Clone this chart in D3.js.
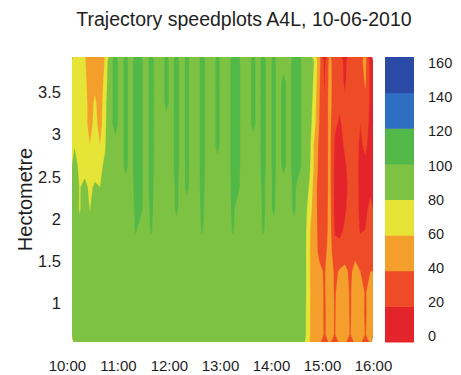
<!DOCTYPE html>
<html>
<head>
<meta charset="utf-8">
<script src="https://cdn.jsdelivr.net/npm/d3@7"></script>
<style>
  body { margin: 0; background: #fff; }
  svg text { font-family: 'Liberation Sans', Arial, Helvetica, sans-serif; fill: #1e1e1e; }
</style>
</head>
<body>
<div id="chart"></div>
<script>
const title = 'Trajectory speedplots A4L, 10-06-2010';
const yTitle = 'Hectometre';

const timeLabels = ['10:00', '11:00', '12:00', '13:00', '14:00', '15:00', '16:00'];
const timeDomain = ['10:06', '16:00'];
const hectoTicks = [1, 1.5, 2, 2.5, 3, 3.5];
const hectoDomain = [0.54, 3.92];

const speedBands = [0, 20, 40, 60, 80, 100, 120, 140, 160];
const bandColors = ['#e3242b', '#ee4b27', '#f49e2b', '#e6e436', '#7dc243', '#52b848', '#2e6ec3', '#2b4aa6'];

// column centres of the speed grid
const sampleTimes = [
  '10:09', '10:15', '10:21', '10:27', '10:33', '10:39', '10:45', '10:51', '10:57',
  '11:03', '11:09', '11:15', '11:21', '11:27', '11:33', '11:39', '11:45', '11:51', '11:57',
  '12:03', '12:09', '12:15', '12:21', '12:27', '12:33', '12:39', '12:45', '12:51', '12:57',
  '13:03', '13:09', '13:15', '13:21', '13:27', '13:33', '13:39', '13:45', '13:51', '13:57',
  '14:03', '14:09', '14:15', '14:21', '14:27', '14:33', '14:39', '14:45', '14:51', '14:57',
  '15:03', '15:09', '15:15', '15:21', '15:27', '15:33', '15:39', '15:45', '15:51', '15:57',
];

// row centres, top to bottom
const hectometres = [3.875, 3.625, 3.375, 3.125, 2.875, 2.625, 2.375, 2.125, 1.875, 1.625, 1.375, 1.125, 0.875, 0.625];

// speed (km/h), one row per hectometre, one value per sample time
const speedGrid = [
  [70,68,62,48,45,46,62, 97,103,96, 102,97,103,102,96,103,97,96,102,97, 103,96,102,97,96,103,97,96,102,97, 96,103,102,97,96,102,97,103,96,102, 97,96,97,103,102,97, 95,78,45,15,45,30,28,15,30,32,35,45,12],
  [72,70,66,48,52,46,68, 97,103,96, 102,97,103,102,96,103,97,96,102,97, 103,96,102,97,96,103,97,96,102,97, 96,103,102,97,96,102,97,103,96,102, 97,102,97,103,102,97, 95,74,42,18,47,28,25,18,28,30,30,42,14],
  [72,68,70,49,64,48,74, 97,103,96, 102,97,103,102,96,103,97,96,102,97, 103,96,102,97,96,103,97,96,102,97, 96,103,102,97,96,102,97,103,96,102, 97,102,97,103,102,97, 93,70,40,22,48,25,22,22,30,28,25,35,15],
  [70,66,70,50,68,50,76, 97,103,96, 102,97,103,102,96,103,97,96,97,97, 103,96,102,97,96,103,97,96,102,97, 96,103,102,97,96,102,97,103,96,102, 97,102,97,103,102,97, 90,66,38,25,46,22,18,25,28,26,20,28,15],
  [79,70,70,60,70,60,78, 97,97,96, 102,97,103,102,96,103,97,96,97,97, 103,96,102,97,96,103,97,96,102,97, 96,103,102,97,96,97,97,103,96,102, 97,102,97,103,102,97, 88,55,35,28,45,18,15,22,26,25,18,22,16],
  [86,76,74,72,74,75,84, 97,97,96, 102,97,103,102,96,103,97,96,97,97, 103,96,102,97,96,103,97,96,97,97, 96,103,102,97,96,97,97,103,96,102, 97,102,97,103,102,97, 85,55,32,28,45,15,12,18,25,28,15,18,18],
  [88,79,84,77,82,80,90, 96,96,95, 96,96,103,102,96,103,96,95,96,96, 102,95,102,96,95,103,96,95,96,96, 95,103,102,96,95,96,96,102,95,102, 96,96,96,102,96,93, 78,50,30,25,46,14,12,16,24,30,14,16,18],
  [90,78,88,79,90,86,92, 95,95,95, 96,95,102,102,95,102,96,95,95,96, 102,95,96,95,95,102,96,95,95,96, 95,102,96,95,95,96,95,102,95,102, 95,96,95,102,95,92, 70,50,30,25,48,15,14,18,25,28,16,18,22],
  [92,84,92,85,92,90,94, 95,94,95, 95,94,101,96,94,101,95,94,95,95, 96,95,95,94,95,101,95,94,95,95, 94,101,95,95,94,95,95,101,95,96, 94,95,95,96,95,91, 62,50,32,26,48,18,16,22,28,30,18,20,25],
  [92,90,93,92,93,92,93, 94,93,94, 94,93,96,94,93,96,94,93,94,93, 94,94,93,94,93,96,94,93,94,93, 93,96,94,94,93,94,93,96,94,94, 93,94,93,94,93,90, 62,48,35,32,50,25,25,30,32,34,28,28,30],
  [91,90,92,91,92,91,92, 92,91,92, 92,91,93,92,94,93,92,91,92,91, 92,92,91,92,91,93,92,91,92,91, 92,93,92,92,91,92,93,92,94,92, 91,92,92,93,92,90, 62,48,44,38,52,36,42,45,36,46,40,34,40],
  [90,91,91,90,91,90,91, 91,90,91, 91,90,92,91,92,91,91,90,91,90, 91,91,90,91,90,92,91,90,91,90, 91,92,91,91,90,91,92,91,92,91, 90,91,91,92,91,90, 62,50,50,37,54,37,50,52,37,50,52,37,52],
  [90,90,91,90,90,91,90, 91,90,90, 91,90,91,90,91,90,91,90,90,91, 90,91,90,90,91,90,91,90,90,91, 90,91,90,91,90,90,91,90,91,90, 90,91,90,91,90,89, 62,50,52,36,52,38,50,54,37,52,52,36,52],
  [90,90,90,91,90,90,91, 90,90,91, 90,91,90,90,91,90,90,91,90,90, 91,90,90,91,90,90,91,90,90,91, 90,90,91,90,90,91,90,90,91,90, 90,91,90,90,91,89, 62,50,52,37,50,38,52,54,38,52,54,38,54],
];

const W = 461, H = 375;
const margin = { top: 57, right: 88, bottom: 33, left: 72 };

const toHours = (s) => {
  const [h, m] = s.split(':').map(Number);
  return h + m / 60;
};

const svg = d3.select('#chart').append('svg').attr('width', W).attr('height', H);

// ----------- SCALES ------------
const x = d3.scaleLinear().domain(timeDomain.map(toHours)).range([margin.left, W - margin.right]);
const y = d3.scaleLinear().domain(hectoDomain).range([H - margin.bottom, margin.top]);
const color = d3.scaleThreshold().domain(speedBands.slice(1, -1)).range(bandColors);

svg.append('clipPath').attr('id', 'plot-clip')
  .append('rect')
  .attr('x', margin.left).attr('y', margin.top)
  .attr('width', W - margin.left - margin.right)
  .attr('height', H - margin.top - margin.bottom);

// ----------- FILLED CONTOURS ------------
const cols = sampleTimes.map(toHours);
const dt = cols[1] - cols[0];
const dh = hectometres[0] - hectometres[1];
const t0 = cols[0] - dt / 2;
const hTop = hectometres[0] + dh / 2;

const gridToPlot = d3.geoTransform({
  point: function (gx, gy) {
    this.stream.point(x(t0 + gx * dt), y(hTop - gy * dh));
  },
});
const path = d3.geoPath(gridToPlot);

const bands = d3.contours()
  .size([cols.length, hectometres.length])
  .thresholds(speedBands.slice(0, -1))(speedGrid.flat());

svg.append('g')
  .attr('clip-path', 'url(#plot-clip)')
  .selectAll('path')
  .data(bands)
  .join('path')
  .attr('d', path)
  .attr('fill', (d) => color(d.value))
  .attr('stroke', (d) => color(d.value))
  .attr('stroke-width', 0.3);

// ----------- AXES ------------
const yAxis = svg.append('g')
  .attr('transform', `translate(${margin.left},0)`)
  .call(d3.axisLeft(y).tickValues(hectoTicks).tickSize(0).tickPadding(11).tickFormat(d3.format('')));
yAxis.select('.domain').remove();
yAxis.selectAll('text').style('font-size', '16.5px');

const xAxis = svg.append('g')
  .attr('transform', `translate(0,${H - margin.bottom})`)
  .call(d3.axisBottom(x)
    .tickValues(timeLabels.map(toHours))
    .tickSize(0)
    .tickPadding(18)
    .tickFormat((d, i) => timeLabels[i]));
xAxis.select('.domain').remove();
xAxis.selectAll('text').style('font-size', '15px');

svg.append('text')
  .attr('transform', `translate(32,${(margin.top + H - margin.bottom) / 2}) rotate(-90)`)
  .attr('text-anchor', 'middle')
  .style('font-size', '20px')
  .text(yTitle);

svg.append('text')
  .attr('x', 244)
  .attr('y', 25.5)
  .attr('text-anchor', 'middle')
  .style('font-size', '19.5px')
  .text(title);

// ----------- COLORBAR ------------
const cb = d3.scaleLinear().domain([speedBands[0], speedBands[speedBands.length - 1]]).range([H - margin.bottom, margin.top]);
const cbLabels = d3.scaleLinear().domain(cb.domain()).range([336, 63]);

svg.append('g')
  .selectAll('rect')
  .data(bandColors)
  .join('rect')
  .attr('x', 385)
  .attr('width', 29)
  .attr('y', (d, i) => cb(speedBands[i + 1]))
  .attr('height', (d, i) => cb(speedBands[i]) - cb(speedBands[i + 1]) + 0.5)
  .attr('fill', (d) => d);

const cbAxis = svg.append('g')
  .attr('transform', 'translate(414,0)')
  .call(d3.axisRight(cbLabels).tickValues(speedBands).tickSize(0).tickPadding(14).tickFormat(d3.format('')));
cbAxis.select('.domain').remove();
cbAxis.selectAll('text').style('font-size', '14.5px');
</script>
</body>
</html>
